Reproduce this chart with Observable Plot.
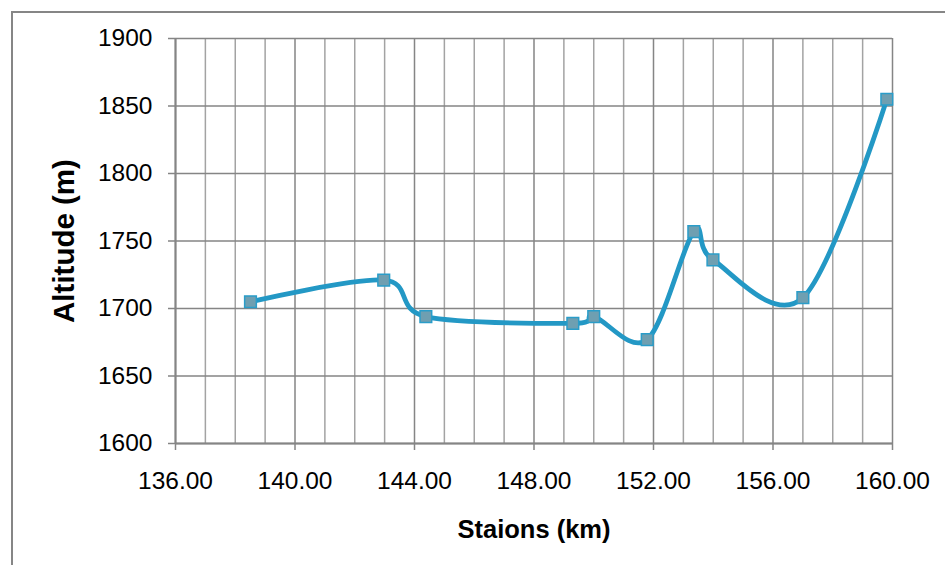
<!DOCTYPE html>
<html>
<head>
<meta charset="utf-8">
<script src="https://cdn.jsdelivr.net/npm/d3@7"></script>
<script src="https://cdn.jsdelivr.net/npm/@observablehq/plot@0.6"></script>
<style>
  html, body { margin: 0; padding: 0; background: #fff; overflow: hidden; }
  #wrap { position: relative; width: 945px; height: 565px; }
  #frame {
    position: absolute; left: 11px; top: 11px;
    width: 960px; height: 600px;
    border: 2px solid #868686; box-sizing: border-box;
    pointer-events: none;
  }
  #chart { position: absolute; left: 0; top: 0; }
</style>
</head>
<body>
<div id="wrap">
  <div id="chart"></div>
  <div id="frame"></div>
</div>
<script>
// Station positions along the route (km) and their altitudes (m)
const stations = [138.51, 142.97, 144.38, 149.30, 150.00, 151.79, 153.35, 153.99, 157.00, 159.81];
const altitudes = [1705, 1721, 1694, 1689, 1694, 1677, 1757, 1736, 1708, 1855];

// Axis ticks
const xMajor = [136, 140, 144, 148, 152, 156, 160];
const xMinor = d3.range(137, 160).filter(v => (v - 136) % 4 !== 0);
const yTicks = [1600, 1650, 1700, 1750, 1800, 1850, 1900];

const xLabel = "Staions (km)";
const yLabel = "Altitude (m)";

const profile = stations.map((s, i) => ({station: s, altitude: altitudes[i]}));

const font = "'Liberation Sans', Arial, Helvetica, sans-serif";

const chart = Plot.plot({
  width: 945,
  height: 565,
  marginLeft: 175,
  marginRight: 53,
  marginTop: 38,
  marginBottom: 122,
  style: {fontFamily: font, fontSize: "24px", color: "#000", background: "#fff"},
  x: {domain: [136, 160]},
  y: {domain: [1600, 1900]},
  marks: [
    Plot.gridX(xMinor, {stroke: "#a3a3a3", strokeOpacity: 1, strokeWidth: 1.5}),
    Plot.gridX(xMajor, {stroke: "#858585", strokeOpacity: 1, strokeWidth: 1.5}),
    Plot.gridY(yTicks, {stroke: "#858585", strokeOpacity: 1, strokeWidth: 1.5}),
    Plot.ruleX([136], {stroke: "#858585", strokeWidth: 2}),
    Plot.ruleY([1600], {stroke: "#858585", strokeWidth: 2}),
    Plot.axisY(yTicks, {
      tickSize: 7, tickPadding: 16, stroke: "#858585", strokeWidth: 1.5,
      tickFormat: d => String(d), fontSize: 24.5, fill: "#000", label: null
    }),
    Plot.axisX(xMajor, {
      tickSize: 7, tickPadding: 21, stroke: "#858585", strokeWidth: 1.5,
      tickFormat: d => d.toFixed(2), fontSize: 24.5, fill: "#000", label: null
    }),
    Plot.line(profile, {
      x: "station", y: "altitude", curve: "cardinal",
      stroke: "#2398c5", strokeWidth: 4.8
    }),
    Plot.dot(profile, {
      x: "station", y: "altitude", symbol: "square", r: 6.6,
      fill: "#6f9fb1", stroke: "#2a9dc9", strokeWidth: 1.5
    }),
    Plot.text([xLabel], {
      frameAnchor: "bottom", lineAnchor: "bottom", textAnchor: "middle", dy: 94,
      fontWeight: "bold", fontSize: 25.5, fill: "#000"
    }),
    Plot.text([yLabel], {
      frameAnchor: "left", lineAnchor: "bottom", textAnchor: "middle", rotate: -90, dx: -102,
      fontWeight: "bold", fontSize: 29.5, fill: "#000"
    })
  ]
});

document.getElementById("chart").appendChild(chart);
</script>
</body>
</html>
